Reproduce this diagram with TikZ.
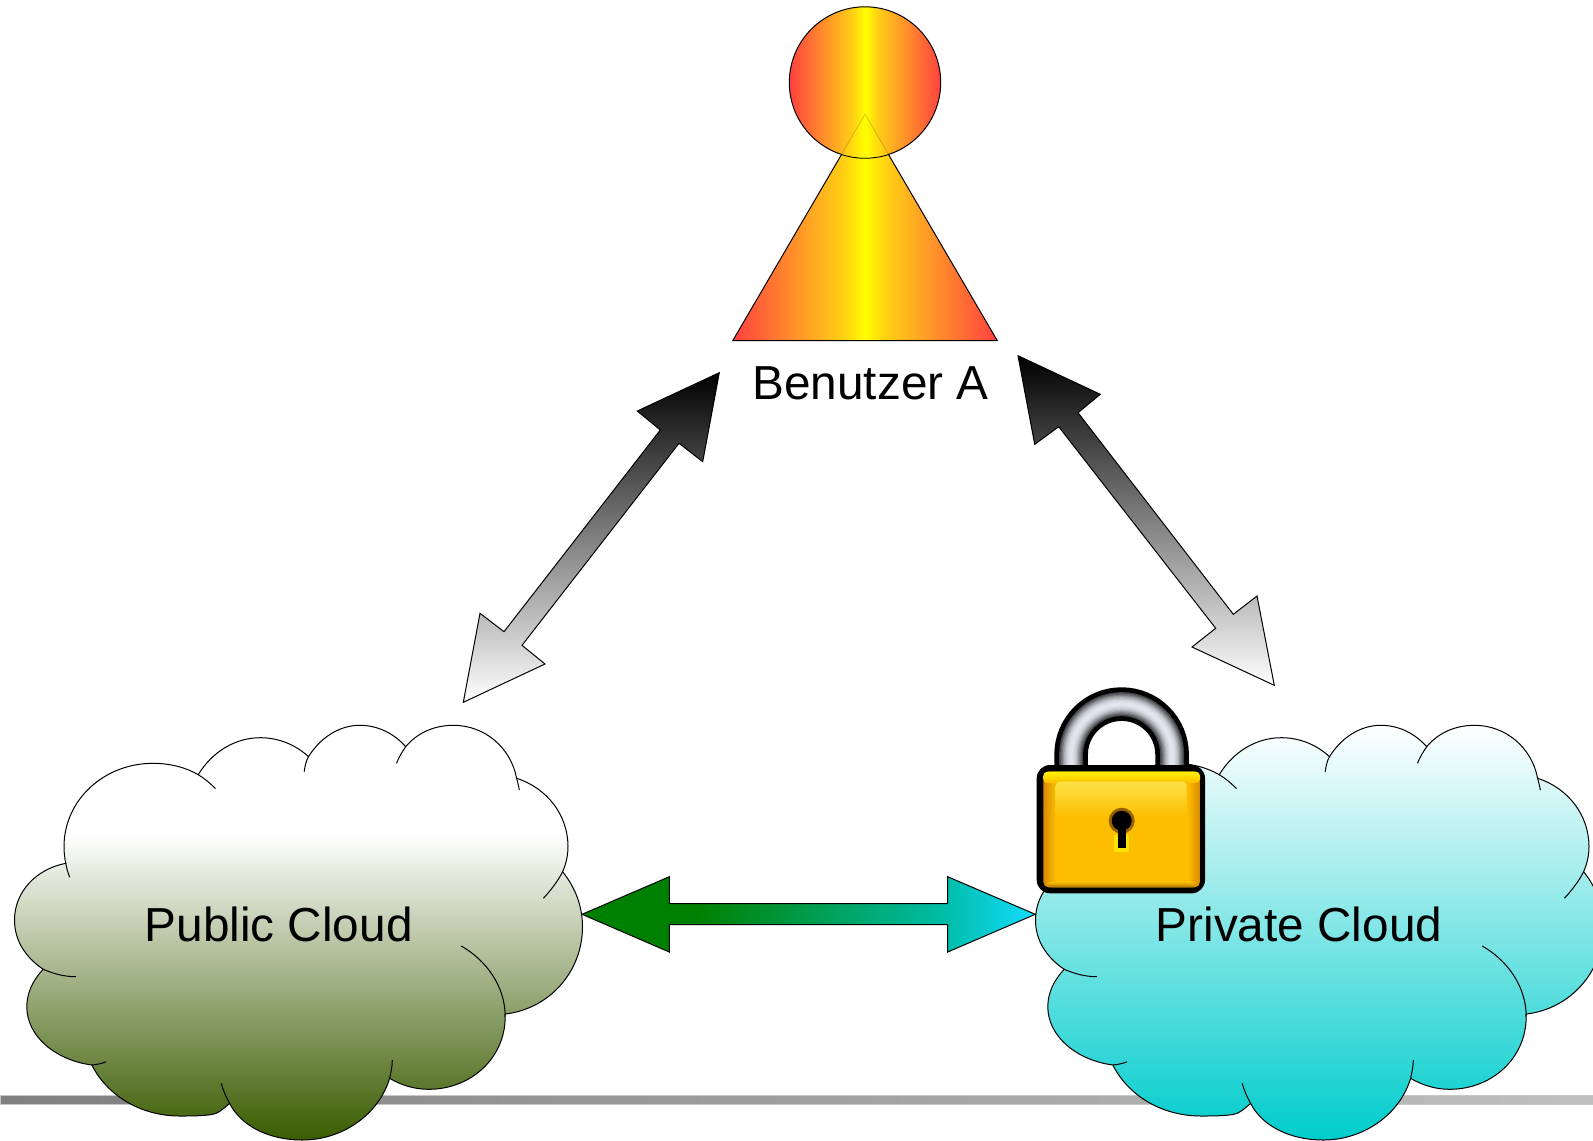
\documentclass[tikz,border=0pt]{standalone}
\usepackage{fontspec}
\setmainfont{Liberation Sans}
\tikzset{every picture/.style={line width=0.75pt}}

\definecolor{cloudgreen}{RGB}{58,92,0}
\definecolor{cloudcyan}{RGB}{0,204,204}
\definecolor{personred}{RGB}{255,64,64}
\definecolor{personorange}{RGB}{255,150,40}
\definecolor{persongold}{RGB}{255,208,20}
\definecolor{linkgreen}{RGB}{0,128,0}
\definecolor{linkteal}{RGB}{0,190,170}
\definecolor{linkcyan}{RGB}{20,220,255}
\definecolor{lockedge}{RGB}{217,138,0}
\definecolor{lockgold}{RGB}{253,189,0}
\definecolor{lockshine}{RGB}{253,226,70}
\definecolor{lockmetal}{RGB}{226,229,238}

\pgfdeclareverticalshading{publicshade}{100bp}{color(0bp)=(cloudgreen); color(25bp)=(cloudgreen); color(62bp)=(white); color(100bp)=(white)}
\pgfdeclarehorizontalshading{personshade}{100bp}{color(0bp)=(personred); color(25bp)=(personred); color(37.5bp)=(personorange); color(46bp)=(persongold); color(50bp)=(yellow); color(54bp)=(persongold); color(62.5bp)=(personorange); color(75bp)=(personred); color(100bp)=(personred)}
\pgfdeclarehorizontalshading{linkshade}{100bp}{color(0bp)=(linkgreen); color(37.5bp)=(linkgreen); color(65.3bp)=(linkteal); color(75bp)=(linkcyan); color(100bp)=(linkcyan)}
\pgfdeclarehorizontalshading{lockshade}{100bp}{color(0bp)=(lockedge); color(25bp)=(lockedge); color(29bp)=(lockgold); color(71bp)=(lockgold); color(75bp)=(lockedge); color(100bp)=(lockedge)}

\tikzset{
  grayarrow/.style={top color=black, bottom color=white},
  labeltext/.style={anchor=base, inner sep=0pt, font=\fontsize{35.8}{42}\selectfont},
}

\newcommand{\cloudoutline}{(65.8,863.3) .. controls (64.5,857) and (64,852) .. (64,846.7) .. controls (64,800) and (104,763.3) .. (153,763.3) .. controls (170,763.3) and (186,767.5) .. (198.2,774.7)
  .. controls (212,752) and (235,737.7) .. (260.2,737.7) .. controls (279,737.7) and (296,745) .. (308.5,756.7)
  .. controls (320,738) and (339,725.3) .. (359.7,725.3) .. controls (378,725.3) and (394,733.5) .. (405.7,746.7)
  .. controls (417,733) and (434,725.3) .. (453.5,725.3) .. controls (485,725.3) and (511,748) .. (516.6,778.3)
  .. controls (547,788) and (568,815) .. (568,846.7) .. controls (568,855.5) and (566,864) .. (562.6,871.7)
  .. controls (575,887) and (582.5,906) .. (582.5,926.7) .. controls (582.5,972) and (549,1009) .. (505.2,1014)
  -- (505.2,1016.7) .. controls (505.2,1058) and (471,1089.3) .. (428.6,1089.3) .. controls (414,1089.3) and (401,1085) .. (389.6,1078.3)
  .. controls (379,1114) and (343,1140) .. (302.3,1140) .. controls (269,1140) and (241,1126) .. (229.6,1103.3)
  .. controls (222,1110) and (218,1113.5) .. (212,1114.5) .. controls (202,1116) and (190,1116) .. (180,1116) .. controls (140,1116) and (107,1095) .. (91.8,1065)
  .. controls (55,1060) and (26.8,1036) .. (26.8,1006.7) .. controls (26.8,993) and (33,980) .. (43.2,969.3)
  .. controls (25,957) and (14.5,940) .. (14.5,920) .. controls (14.5,892) and (36,869) .. (65.8,863.3) -- cycle}

\newcommand{\cloudcreases}{(198.2,774.7) .. controls (204,778) and (210,783) .. (215.5,788.7)
  (308.5,756.7) .. controls (306,761) and (305,766) .. (304.2,771.7)
  (405.7,746.7) .. controls (402,752) and (399,757) .. (396.5,763.3)
  (516.6,778.3) .. controls (517.6,782) and (518.7,786) .. (519.3,790)
  (562.6,871.7) .. controls (558,881) and (551,890) .. (543.4,898.3)
  (461.2,946) .. controls (486,960) and (505.2,986) .. (505.2,1016.7)
  (392.3,1060) .. controls (392.3,1066) and (391,1072) .. (389.6,1078.3)
  (221.2,1083.3) .. controls (223,1090) and (226,1097) .. (229.6,1103.3)
  (106,1061.7) .. controls (102,1063.5) and (97,1064.5) .. (91.8,1065)
  (43.2,969.3) .. controls (52,973) and (63,976.7) .. (75.8,976.7)
  (65.8,863.3) .. controls (66.5,868) and (68,873) .. (69.7,877.3)}

\begin{document}
\begin{tikzpicture}[x=0.75pt,y=0.75pt,yscale=-1,xscale=1]
\useasboundingbox (0,0) rectangle (1593,1140);

%Shape: Rectangle, ground line
\shadedraw [draw=black!22, left color=black!50, right color=black!25] (0,1095) rectangle (1593,1104);

%Shape: Cloud, public
\shade [shading=publicshade] \cloudoutline ;
\draw \cloudoutline ;
\draw \cloudcreases ;
%Shape: Cloud, private
\begin{scope}[shift={(1021,0)}]
\shade [top color=white, bottom color=cloudcyan] \cloudoutline ;
\draw \cloudoutline ;
\draw \cloudcreases ;
\end{scope}

%Shape: Triangle, person body
\shadedraw [shading=personshade] (865,114.3) -- (997.3,340.7) -- (732.7,340.7) -- cycle ;
%Shape: Circle, person head
\shadedraw [shading=personshade] (865,82.5) circle (75.7) ;
%Shape: Triangle, seen through the head
\begin{scope}
\clip (865,82.5) circle (75.2) ;
\shadedraw [shading=personshade, fill opacity=0.6, draw opacity=0.15] (865,114.3) -- (997.3,340.7) -- (732.7,340.7) -- cycle ;
\end{scope}

%Double Arrow, user to public
\coordinate (usertipl) at (719.3,372.7);
\coordinate (publictip) at (463.3,702.3);
\shadedraw [grayarrow] (usertipl) -- (702.7,461.7) -- (679,443.3) -- (522,645.3) -- (545,664) -- (publictip) -- (480,613.3) -- (504,631.7) -- (660.3,430) -- (637.3,411) -- cycle ;
%Double Arrow, user to private
\coordinate (usertipr) at (1018,355.7);
\coordinate (privatetip) at (1274.3,685.3);
\shadedraw [grayarrow] (usertipr) -- (1100.3,394.3) -- (1078,412.7) -- (1233.3,614.3) -- (1257,596) -- (privatetip) -- (1192,647) -- (1215.7,628.3) -- (1058.7,426.7) -- (1034.7,444.3) -- cycle ;
%Double Arrow, public to private
\coordinate (publicend) at (582,914.3);
\coordinate (privateend) at (1035.3,914.3);
\shadedraw [shading=linkshade] (publicend) -- (669.3,876.7) -- (669.3,903.7) -- (947.7,903.7) -- (947.7,876.7) -- (privateend) -- (947.7,952) -- (947.7,924.7) -- (669.3,924.7) -- (669.3,952) -- cycle ;

%Lock shackle
\draw [line width=0.75*33.6pt] (1071.1,772) -- (1071.1,754.6) arc (180:360:50.5) -- (1172.1,772) ;
\foreach \lockw/\lockmix in {24/30, 21.5/42, 19/54, 16.5/66, 14/76, 11.5/85, 9/92, 6/97, 3/100} {
  \draw [line width=0.75*\lockw pt, color=lockmetal!\lockmix!black] (1071.1,772) -- (1071.1,754.6) arc (180:360:50.5) -- (1172.1,772) ;
}
%Lock body
\fill [rounded corners=10] (1036.7,765) rectangle (1205,893.3) ;
\shade [shading=lockshade, rounded corners=4] (1043.3,771.7) rectangle (1200,887.3) ;
\shade [top color=yellow!90!orange, bottom color=lockgold, rounded corners=3] (1043.3,771.7) rectangle (1200,783) ;
\shade [top color=lockshine, bottom color=lockgold, rounded corners=3] (1055.7,781.7) rectangle (1186.7,818) ;
\shade [top color=lockgold, bottom color=lockedge!80!black, rounded corners=3] (1047,882) rectangle (1196,887.3) ;
%Lock keyhole
\fill [color=yellow!85!orange] (1114.3,835) rectangle (1129,851.7) ;
\fill [color=lockedge!70!black] (1121.7,820.7) circle (13) ;
\fill [color=black] (1121.7,820.7) circle (10) ;
\fill [color=black] (1117.7,825) rectangle (1125.7,847.7) ;

% Text Node
\node (userlabel) [labeltext] at (870.5,399.3) {Benutzer A};
% Text Node
\node (publiclabel) [labeltext] at (278.7,941.5) {Public Cloud};
% Text Node
\node (privatelabel) [labeltext] at (1299,941) {Private Cloud};

\end{tikzpicture}
\end{document}
